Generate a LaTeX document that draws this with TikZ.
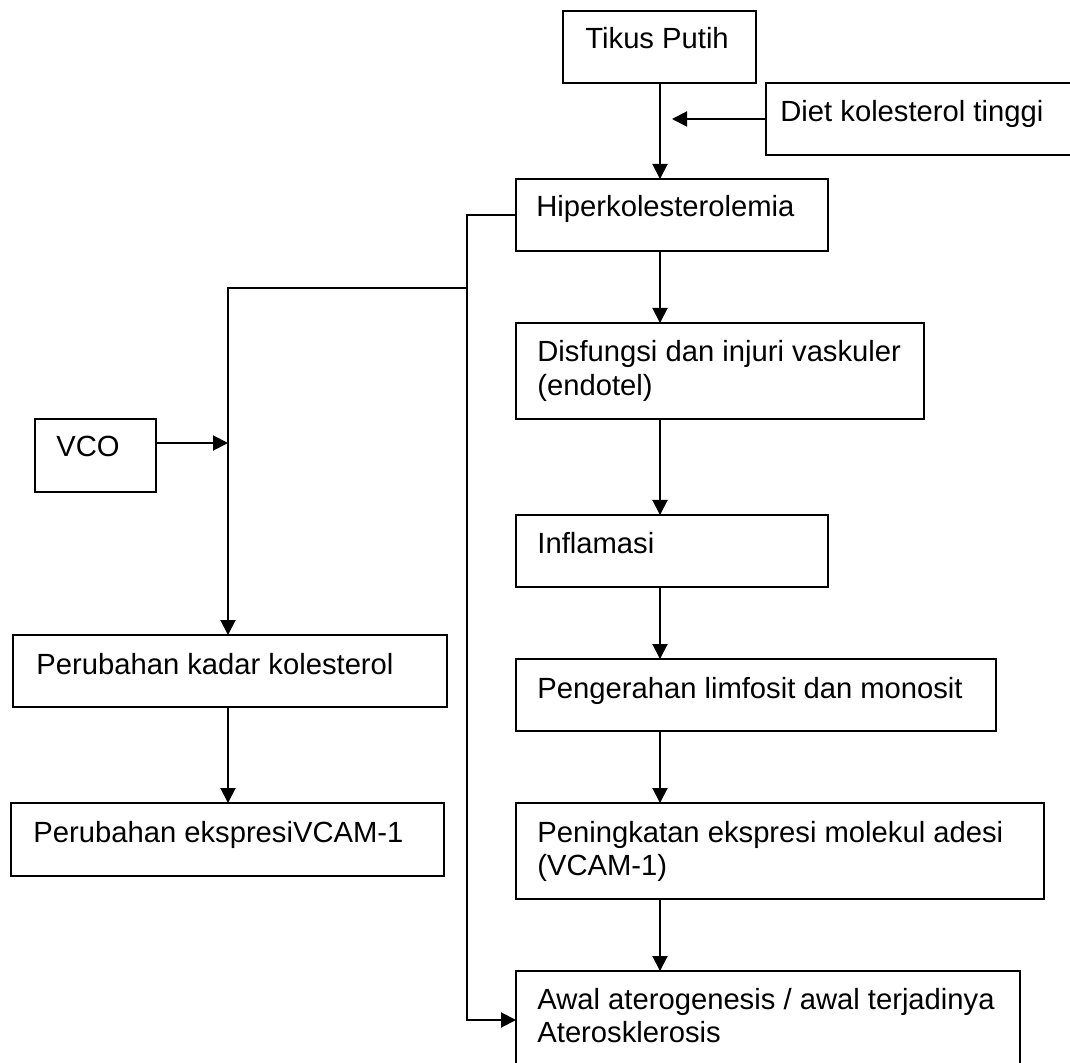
\documentclass[tikz,border=0pt]{standalone}
\usepackage{fontspec}
\setmainfont{Liberation Sans}
\usetikzlibrary{arrows.meta,fit,calc}
\newcommand{\twolines}[2]{\begin{tabular}[t]{@{}l@{}}#1\\#2\end{tabular}}
\begin{document}
\begin{tikzpicture}[x=0.5pt,y=-0.5pt,
  box/.style={draw=black, line width=0.65pt, inner sep=0pt, outer sep=0pt},
  txt/.style={anchor=base west, inner sep=0pt, font=\fontsize{14.6pt}{16.75pt}\selectfont},
  conn/.style={draw=black, line width=1pt},
  arr/.style={conn, -{Triangle[length=7.5pt,width=7.5pt]}}]
\fill[white] (0,0) rectangle (1070,1063);
\useasboundingbox (0,0) rectangle (1070,1063);
\clip (0,0) rectangle (1070,1063);

% boxes
\node[box, fit={(563,11) (756,83)}] (tikus) {};
\node[box, fit={(766,83) (1085,155)}] (diet) {};
\node[box, fit={(516,179) (828,251)}] (hiper) {};
\node[box, fit={(516,323) (924,419)}] (disf) {};
\node[box, fit={(516,515) (828,587)}] (infl) {};
\node[box, fit={(516,659) (996,731)}] (peng) {};
\node[box, fit={(516,803) (1044,899)}] (ping) {};
\node[box, fit={(516,971) (1020,1069)}] (awal) {};
\node[box, fit={(35,419) (156,492)}] (vco) {};
\node[box, fit={(13,635) (447,707)}] (kadar) {};
\node[box, fit={(11,803) (444,876)}] (ekspr) {};

% texts
\node[txt] (tikus-t) at (585,49) {Tikus Putih};
\node[txt] (diet-t) at (780,122) {Diet kolesterol tinggi};
\node[txt] (hiper-t) at (536,217) {Hiperkolesterolemia};
\node[txt] (disf-t) at (537,362) {\twolines{Disfungsi dan injuri vaskuler}{(endotel)}};
\node[txt] (infl-t) at (537,553) {Inflamasi};
\node[txt] (peng-t) at (537,698) {Pengerahan limfosit dan monosit};
\node[txt] (ping-t) at (537,842) {\twolines{Peningkatan ekspresi molekul adesi}{(VCAM-1)}};
\node[txt] (awal-t) at (537,1009) {\twolines{Awal aterogenesis / awal terjadinya}{Aterosklerosis}};
\node[txt] (vco-t) at (56,457) {VCO};
\node[txt] (kadar-t) at (36,674) {Perubahan kadar kolesterol};
\node[txt] (ekspr-t) at (33,842) {Perubahan ekspresiVCAM-1};

% helper coordinates
\coordinate (sx) at (660,0);
\coordinate (bx) at (467,0);
\coordinate (jn) at (228,288);
\coordinate (va) at (228,443);
\coordinate (dt) at (672,119);

% connectors
\draw[arr] (tikus.south -| sx) -- (hiper.north -| sx);
\draw[arr] (diet.west) -- (dt);
\draw[arr] (hiper.south -| sx) -- (disf.north -| sx);
\draw[arr] (disf.south -| sx) -- (infl.north -| sx);
\draw[arr] (infl.south -| sx) -- (peng.north -| sx);
\draw[arr] (peng.south -| sx) -- (ping.north -| sx);
\draw[arr] (ping.south -| sx) -- (awal.north -| sx);
\draw[arr] (hiper.west) -| (bx |- awal.west) -- (awal.west);
\draw[arr] (bx |- jn) -- (jn) -- (jn |- kadar.north);
\draw[arr] (vco.east |- va) -- (va);
\draw[arr] (kadar.south -| jn) -- (ekspr.north -| jn);
\end{tikzpicture}
\end{document}
